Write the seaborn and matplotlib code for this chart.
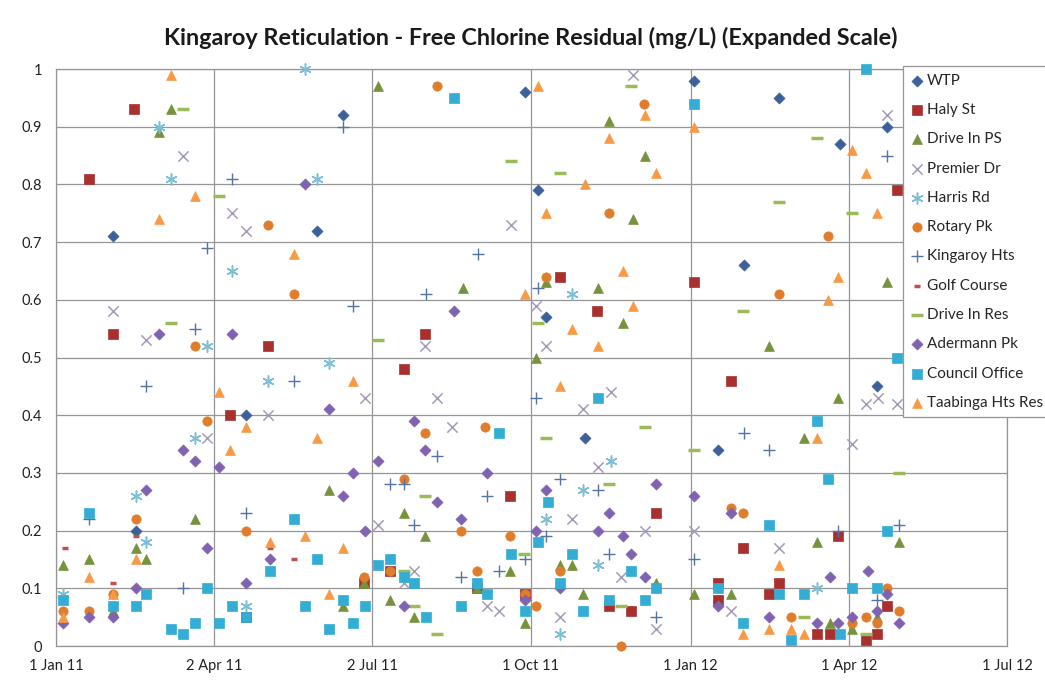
import numpy as np
import pandas as pd
import matplotlib
matplotlib.use('Agg')
import matplotlib.pyplot as plt
import seaborn as sns

# Sample days are counted from 1 Jan 2011, values are free chlorine in mg/L
start = pd.Timestamp('2011-01-01')

wtp_day = [33, 46, 109, 150, 165, 270, 277, 282, 304, 367, 381, 396, 416, 451, 472, 478]
wtp_val = [0.71, 0.20, 0.40, 0.72, 0.92, 0.96, 0.79, 0.57, 0.36, 0.98, 0.34, 0.66, 0.95, 0.87, 0.45, 0.90]

haly_day = [19, 33, 45, 100, 109, 122, 177, 192, 200, 212, 242, 261, 270, 290, 311, 318, 331, 345, 367, 381,
            381, 388, 395, 410, 416, 438, 445, 450, 466, 472, 478, 484]
haly_val = [0.81, 0.54, 0.93, 0.40, 0.05, 0.52, 0.11, 0.13, 0.48, 0.54, 0.10, 0.26, 0.09, 0.64, 0.58, 0.07, 0.06, 0.23, 0.63, 0.11,
            0.08, 0.46, 0.17, 0.09, 0.11, 0.02, 0.02, 0.19, 0.01, 0.02, 0.07, 0.79]

dips_day = [4, 19, 33, 46, 52, 59, 66, 80, 157, 165, 177, 185, 192, 200, 206, 212, 234, 242, 261, 270,
            276, 282, 290, 297, 303, 312, 318, 326, 332, 339, 345, 367, 388, 410, 430, 438, 445, 450, 458, 472,
            478, 485]
dips_val = [0.14, 0.15, 0.06, 0.17, 0.15, 0.89, 0.93, 0.22, 0.27, 0.07, 0.11, 0.97, 0.08, 0.23, 0.05, 0.19, 0.62, 0.10, 0.13, 0.04,
            0.50, 0.63, 0.14, 0.14, 0.09, 0.62, 0.91, 0.56, 0.74, 0.85, 0.11, 0.09, 0.09, 0.52, 0.36, 0.18, 0.04, 0.43, 0.03, 0.05,
            0.63, 0.18]

premier_day = [33, 52, 73, 87, 101, 109, 122, 178, 185, 200, 206, 212, 219, 228, 248, 255, 262, 276, 282, 290,
               297, 303, 312, 319, 325, 332, 339, 345, 367, 388, 416, 458, 466, 473, 478, 484]
premier_val = [0.58, 0.53, 0.85, 0.36, 0.75, 0.72, 0.40, 0.43, 0.21, 0.11, 0.13, 0.52, 0.43, 0.38, 0.07, 0.06, 0.73, 0.59, 0.52, 0.05,
               0.22, 0.41, 0.31, 0.44, 0.12, 0.99, 0.20, 0.03, 0.20, 0.06, 0.17, 0.35, 0.42, 0.43, 0.92, 0.42]

harris_day = [4, 46, 52, 59, 66, 80, 87, 101, 109, 122, 143, 150, 157, 282, 290, 297, 303, 312, 319, 438]
harris_val = [0.09, 0.26, 0.18, 0.90, 0.81, 0.36, 0.52, 0.65, 0.07, 0.46, 1.00, 0.81, 0.49, 0.22, 0.02, 0.61, 0.27, 0.14, 0.32, 0.10]

rotary_day = [4, 19, 33, 46, 80, 87, 109, 122, 137, 177, 192, 200, 212, 219, 233, 242, 247, 261, 270, 276,
              282, 290, 318, 325, 338, 388, 395, 416, 423, 444, 458, 466, 472, 478, 485]
rotary_val = [0.06, 0.06, 0.09, 0.22, 0.52, 0.39, 0.20, 0.73, 0.61, 0.12, 0.13, 0.29, 0.37, 0.97, 0.20, 0.13, 0.38, 0.19, 0.09, 0.07,
              0.64, 0.13, 0.75, 0.00, 0.94, 0.24, 0.23, 0.61, 0.05, 0.71, 0.04, 0.05, 0.04, 0.10, 0.06]

kingaroy_day = [19, 52, 73, 80, 87, 101, 109, 137, 165, 171, 192, 200, 206, 213, 219, 233, 243, 248, 255, 270,
                276, 277, 282, 290, 312, 318, 345, 367, 396, 410, 450, 472, 478, 485]
kingaroy_val = [0.22, 0.45, 0.10, 0.55, 0.69, 0.81, 0.23, 0.46, 0.90, 0.59, 0.28, 0.28, 0.21, 0.61, 0.33, 0.12, 0.68, 0.26, 0.13, 0.15,
                0.43, 0.62, 0.19, 0.29, 0.27, 0.16, 0.05, 0.15, 0.37, 0.34, 0.20, 0.08, 0.85, 0.21]

golf_day = [5, 33, 46, 123, 137]
golf_val = [0.17, 0.11, 0.19, 0.17, 0.15]

dires_day = [66, 73, 94, 185, 200, 206, 212, 219, 262, 269, 277, 282, 290, 318, 325, 331, 339, 367, 395, 416,
             430, 438, 458, 466, 485]
dires_val = [0.56, 0.93, 0.78, 0.53, 0.13, 0.07, 0.26, 0.02, 0.84, 0.16, 0.56, 0.36, 0.82, 0.28, 0.07, 0.97, 0.38, 0.34, 0.58, 0.77,
             0.05, 0.88, 0.75, 0.02, 0.30]

adermann_day = [4, 19, 33, 46, 52, 59, 73, 80, 87, 94, 101, 109, 123, 143, 157, 165, 171, 178, 185, 200,
                206, 212, 219, 229, 233, 248, 270, 276, 282, 290, 312, 318, 326, 331, 339, 345, 367, 381, 388, 410,
                438, 445, 450, 458, 467, 472, 478, 485]
adermann_val = [0.04, 0.05, 0.05, 0.10, 0.27, 0.54, 0.34, 0.32, 0.17, 0.31, 0.54, 0.11, 0.15, 0.80, 0.41, 0.26, 0.30, 0.20, 0.32, 0.07,
                0.39, 0.34, 0.25, 0.58, 0.22, 0.30, 0.08, 0.20, 0.27, 0.10, 0.20, 0.23, 0.19, 0.16, 0.12, 0.28, 0.26, 0.07, 0.23, 0.05,
                0.04, 0.12, 0.04, 0.05, 0.13, 0.06, 0.09, 0.04]

council_day = [4, 19, 33, 46, 52, 66, 73, 80, 87, 94, 101, 109, 123, 137, 143, 150, 157, 165, 171, 178,
               185, 192, 200, 206, 213, 229, 233, 242, 248, 255, 262, 270, 277, 283, 290, 297, 303, 312, 318, 331,
               339, 345, 367, 381, 395, 410, 416, 423, 430, 438, 444, 451, 458, 466, 472, 478, 484]
council_val = [0.08, 0.23, 0.07, 0.07, 0.09, 0.03, 0.02, 0.04, 0.10, 0.04, 0.07, 0.05, 0.13, 0.22, 0.07, 0.15, 0.03, 0.08, 0.04, 0.07,
               0.14, 0.15, 0.12, 0.11, 0.05, 0.95, 0.07, 0.11, 0.09, 0.37, 0.16, 0.06, 0.18, 0.25, 0.11, 0.16, 0.06, 0.43, 0.08, 0.13,
               0.08, 0.10, 0.94, 0.10, 0.04, 0.21, 0.09, 0.01, 0.09, 0.39, 0.29, 0.02, 0.10, 1.00, 0.10, 0.20, 0.50]

taabinga_day = [4, 19, 33, 46, 59, 66, 80, 94, 100, 109, 123, 137, 143, 150, 157, 165, 171, 270, 277, 282,
                290, 297, 304, 312, 318, 326, 332, 339, 345, 367, 395, 410, 416, 423, 430, 438, 444, 450, 458, 466,
                472]
taabinga_val = [0.05, 0.12, 0.09, 0.15, 0.74, 0.99, 0.78, 0.44, 0.34, 0.38, 0.18, 0.68, 0.19, 0.36, 0.09, 0.17, 0.46, 0.61, 0.97, 0.75,
                0.45, 0.55, 0.80, 0.52, 0.88, 0.65, 0.59, 0.92, 0.82, 0.90, 0.02, 0.03, 0.14, 0.03, 0.02, 0.36, 0.60, 0.64, 0.86, 0.82,
                0.75]

tick_dates = ['2011-01-01', '2011-04-02', '2011-07-02', '2011-10-01', '2012-01-01', '2012-04-01', '2012-07-01']
tick_labels = ['1 Jan 11', '2 Apr 11', '2 Jul 11', '1 Oct 11', '1 Jan 12', '1 Apr 12', '1 Jul 12']

series = [
    ('WTP', wtp_day, wtp_val),
    ('Haly St', haly_day, haly_val),
    ('Drive In PS', dips_day, dips_val),
    ('Premier Dr', premier_day, premier_val),
    ('Harris Rd', harris_day, harris_val),
    ('Rotary Pk', rotary_day, rotary_val),
    ('Kingaroy Hts', kingaroy_day, kingaroy_val),
    ('Golf Course', golf_day, golf_val),
    ('Drive In Res', dires_day, dires_val),
    ('Adermann Pk', adermann_day, adermann_val),
    ('Council Office', council_day, council_val),
    ('Taabinga Hts Res', taabinga_day, taabinga_val),
]

# marker styling per series (Excel-like)
styles = {
    'WTP': dict(marker='D', color='#3D6098', s=32, edgecolor='#3D6098', linewidth=0.5),
    'Haly St': dict(marker='s', color='#A8302F', s=45, edgecolor='#A8302F', linewidth=0.5),
    'Drive In PS': dict(marker='^', color='#76923C', s=50, edgecolor='#76923C', linewidth=0.5),
    'Premier Dr': dict(marker='x', color='#A59BB8', s=55, linewidth=1.1),
    'Harris Rd': dict(marker=(6, 2, 0), color='#7DBFD6', s=65, linewidth=1.1),
    'Rotary Pk': dict(marker='o', color='#E07D2C', s=45, edgecolor='#E07D2C', linewidth=0.5),
    'Kingaroy Hts': dict(marker='+', color='#5572A4', s=80, linewidth=1.0),
    'Golf Course': dict(marker='_', color='#C0504D', s=18, linewidth=2.5),
    'Drive In Res': dict(marker='_', color='#9BBB59', s=70, linewidth=2.5),
    'Adermann Pk': dict(marker='D', color='#7F62B0', s=32, edgecolor='#7F62B0', linewidth=0.5),
    'Council Office': dict(marker='s', color='#33ADD4', s=45, edgecolor='#33ADD4', linewidth=0.5),
    'Taabinga Hts Res': dict(marker='^', color='#F79A46', s=50, edgecolor='#F79A46', linewidth=0.5),
}

sns.set_style('white')
plt.rcParams['font.family'] = ['Lato', 'DejaVu Sans']

fig, ax = plt.subplots(figsize=(10.45, 6.86), dpi=100)
fig.subplots_adjust(left=0.0536, right=0.9636, top=0.8994, bottom=0.0583)

for name, days, vals in series:
    df = pd.DataFrame({'date': start + pd.to_timedelta(days, unit='D'), 'value': vals})
    sns.scatterplot(data=df, x='date', y='value', ax=ax, label=name, zorder=3, clip_on=False, **styles[name])

# axes, grid and ticks
ax.set_xlim(pd.Timestamp(tick_dates[0]), pd.Timestamp(tick_dates[-1]))
ax.set_ylim(0, 1)
ax.set_xticks(pd.to_datetime(tick_dates))
ax.set_xticklabels(tick_labels)
yt = np.round(np.arange(0, 1.01, 0.1), 1)
ax.set_yticks(yt)
ax.set_yticklabels(['0' if v == 0 else ('1' if v == 1 else f'{v:.1f}') for v in yt])
ax.set_xlabel('')
ax.set_ylabel('')
ax.grid(True, color='#969696', linewidth=0.9)
ax.set_axisbelow(True)
for sp in ax.spines.values():
    sp.set_color('#969696')
    sp.set_linewidth(0.9)
ax.tick_params(axis='both', length=4, width=0.9, color='#969696', labelsize=10.5, labelcolor='#222222')
ax.tick_params(axis='y', pad=6)
ax.tick_params(axis='x', pad=5)

fig.text(0.508, 0.9446, 'Kingaroy Reticulation - Free Chlorine Residual (mg/L) (Expanded Scale)',
         ha='center', va='center', fontsize=16.8, fontweight='bold', color='#1A1A1A')

handles, labels = ax.get_legend_handles_labels()
leg = ax.legend(handles, labels, loc='upper left', bbox_to_anchor=(0.8906, 1.005), frameon=True,
                fancybox=False, edgecolor='#969696', framealpha=1, fontsize=11, labelspacing=1.0,
                handletextpad=0.15, handlelength=0.9, borderpad=0.5, borderaxespad=0)
leg.get_frame().set_linewidth(0.9)
leg.set_zorder(5)

fig.savefig('out.png', dpi=100, facecolor='white')
